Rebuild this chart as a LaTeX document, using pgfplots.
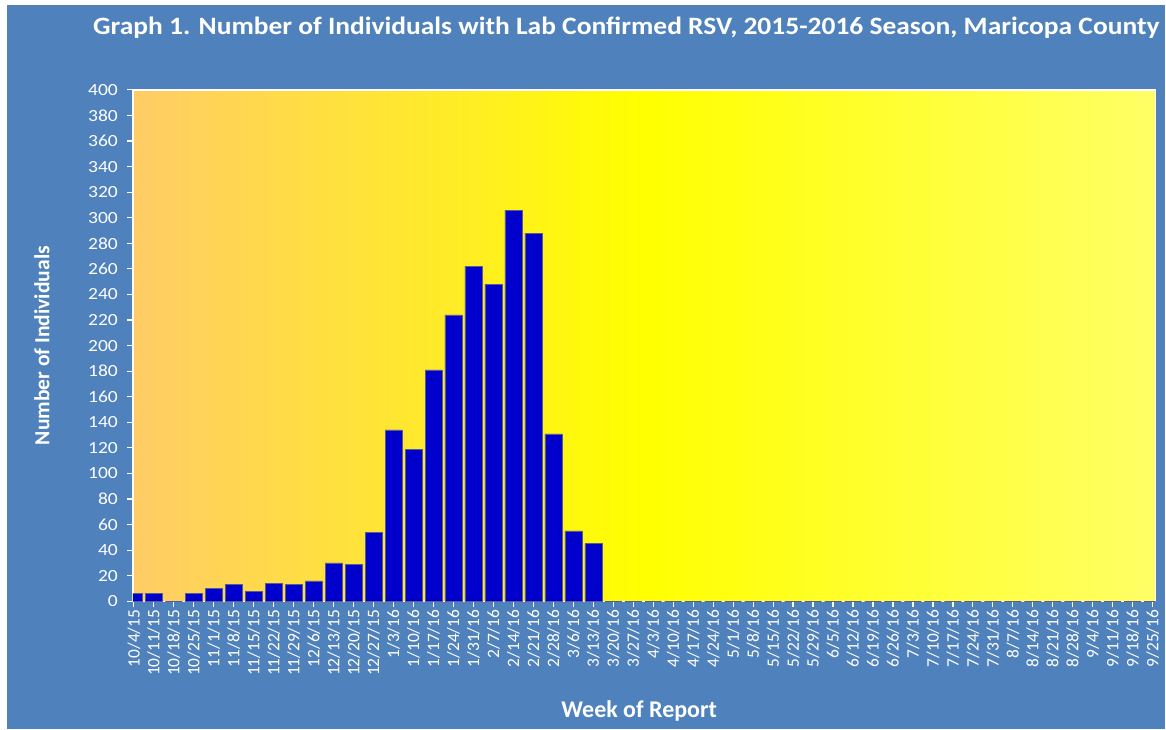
\documentclass[border=0pt]{standalone}
\usepackage{pgfplots}
\pgfplotsset{compat=1.18}
\usepackage{fontspec}
\setmainfont{Carlito}
\definecolor{bgblue}{RGB}{79,129,189}
\definecolor{barblue}{RGB}{0,0,204}
\definecolor{baredge}{RGB}{90,90,150}
\definecolor{lorange}{RGB}{255,204,102}
\definecolor{lyellow}{RGB}{255,255,102}
\definecolor{pyellow}{RGB}{255,255,0}
\begin{document}
\begin{tikzpicture}
\fill[white] (0pt,0pt) rectangle (583pt,365pt);
\fill[bgblue] (3.5pt,0pt) rectangle (583pt,362.5pt);
\node[white,font=\bfseries\fontsize{12.5}{14}\selectfont] at (313.5pt,351pt) {\scalebox{1.1}[1]{Graph 1. Number of Individuals  with Lab Confirmed RSV, 2015-2016 Season, Maricopa  County}};
\begin{axis}[
  at={(66.5pt,64pt)}, anchor=south west,
  scale only axis, width=512pt, height=256pt,
  /pgf/number format/assume math mode=true,
  ymin=0, ymax=400, ytick={0,20,...,400},
  yticklabel={\scalebox{1.15}[1]{\pgfmathprintnumber{\tick}}},
  xmin=-0.05, xmax=51.15,
  xtick={0,...,51},
  xticklabels={10/4/15,10/11/15,10/18/15,10/25/15,11/1/15,11/8/15,11/15/15,11/22/15,11/29/15,12/6/15,12/13/15,12/20/15,12/27/15,1/3/16,1/10/16,1/17/16,1/24/16,1/31/16,2/7/16,2/14/16,2/21/16,2/28/16,3/6/16,3/13/16,3/20/16,3/27/16,4/3/16,4/10/16,4/17/16,4/24/16,5/1/16,5/8/16,5/15/16,5/22/16,5/29/16,6/5/16,6/12/16,6/19/16,6/26/16,7/3/16,7/10/16,7/17/16,7/24/16,7/31/16,8/7/16,8/14/16,8/21/16,8/28/16,9/4/16,9/11/16,9/18/16,9/25/16},
  x tick label style={rotate=90, anchor=east, font=\fontsize{8.7}{9}\selectfont, text=white, inner sep=1pt},
  y tick label style={font=\fontsize{8.5}{9}\selectfont, text=white, xshift=-1pt},
  tick pos=left, tick align=outside,
  major tick length=3pt,
  tick style={white, line width=0.6pt},
  axis line style={white, line width=0.8pt},
  axis background/.style={left color=lorange, right color=lyellow, middle color=pyellow},
  xlabel={Week of Report}, ylabel={Number of Individuals},
  every axis x label/.style={at={(axis description cs:0.495,-0.215)}, anchor=center, font=\bfseries\fontsize{12}{13}\selectfont, text=white},
  every axis y label/.style={at={(axis description cs:-0.0889,0.5)}, rotate=90, anchor=center, font=\bfseries\fontsize{10.8}{12}\selectfont, text=white},
  ybar, bar width=8.5pt,
]
\addplot[fill=barblue, draw=baredge, line width=0.3pt] coordinates {
(0,6)(1,6)(2,0)(3,6)(4,10)(5,13)(6,8)(7,14)(8,13)(9,16)(10,30)(11,29)(12,54)
(13,134)(14,119)(15,181)(16,224)(17,262)(18,248)(19,306)(20,288)(21,131)(22,55)(23,45)
(24,0)(25,0)(26,0)(27,0)(28,0)(29,0)(30,0)(31,0)(32,0)(33,0)(34,0)(35,0)(36,0)(37,0)
(38,0)(39,0)(40,0)(41,0)(42,0)(43,0)(44,0)(45,0)(46,0)(47,0)(48,0)(49,0)(50,0)(51,0)};
\end{axis}
\end{tikzpicture}
\end{document}
